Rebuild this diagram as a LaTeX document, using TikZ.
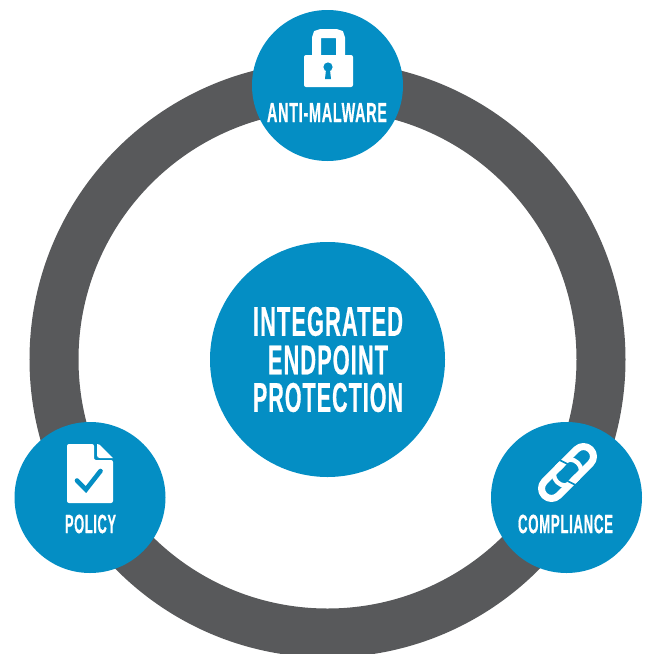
\documentclass[tikz,border=0pt]{standalone}
\usepackage{fontspec}
\setmainfont[FakeStretch=0.5,FakeBold=0.45,LetterSpace=2.5]{Liberation Sans}
\definecolor{ringgray}{HTML}{58595B}
\definecolor{hubblue}{HTML}{048EC4}
\tikzset{
  hub/.style={circle,fill=hubblue,draw=none,inner sep=0pt},
  lbl/.style={text=white,inner sep=0pt,font=\bfseries},
  iconw/.style={fill=white,draw=none},
  linkw/.style={draw=white,line width=7pt,line cap=butt,line join=round,rounded corners=10pt},
  linkn/.style={draw=white,line width=4.4pt,line cap=butt,rounded corners=10pt},
  linkb/.style={draw=hubblue,line width=1.6pt,line cap=butt}
}
\newcommand{\fit}[3]{\resizebox{#1pt}{#2pt}{#3}}
\begin{document}
\begin{tikzpicture}[x=1pt,y=-1pt]
\useasboundingbox (0,0) rectangle (645,654);
\begin{scope}
\clip (0,0) rectangle (645,654);
\draw[ringgray,line width=49pt] (327.5,359.5) circle (273.5pt);
\end{scope}
\node[hub,minimum size=235pt] (core) at (327.5,359.5) {};
\node[hub,minimum size=151pt] (top) at (327.5,85.5) {};
\node[hub,minimum size=151pt] (left) at (90,497.5) {};
\node[hub,minimum size=151pt] (right) at (566.5,497.5) {};
\node[lbl] (l1) at (328,321.5) {\fit{150}{29}{INTEGRATED}};
\node[lbl] (l2) at (328,360) {\fit{120}{29}{ENDPOINT}};
\node[lbl] (l3) at (328,397.5) {\fit{150}{29}{PROTECTION}};
\node[lbl] (t1) at (327,112.5) {\fit{120}{19}{ANTI-MALWARE}};
\node[lbl] (t2) at (90.5,524) {\fit{51}{18.5}{POLICY}};
\node[lbl] (t3) at (565.5,524) {\fit{95}{18.5}{COMPLIANCE}};
% lock
\draw[white,line width=9pt] (316.5,58) -- (316.5,38) .. controls (316.5,35) and (318,33.5) .. (321,33.5) -- (336,33.5) .. controls (339,33.5) and (340.5,35) .. (340.5,38) -- (340.5,58);
\fill[iconw,rounded corners=2pt] (304,55) rectangle (353,87);
\fill[hubblue] (328,67) circle (4.6pt);
\fill[hubblue] (326.2,68) -- (329.8,68) -- (331,79) -- (325,79) -- cycle;
% document
\fill[iconw,rounded corners=2pt] (67,444) -- (94,444) -- (94,460) -- (113,460) -- (113,503) -- (67,503) -- cycle;
\fill[iconw] (97,444) .. controls (99,444) and (100,445) .. (101,446) -- (113,458) -- (100,458) .. controls (98,458) and (97,457) .. (97,455) -- cycle;
\draw[hubblue,line width=4.6pt,line cap=round,line join=miter] (77,480.5) -- (86,489.5) -- (100.5,471);
% chain
\begin{scope}[shift={(567.5,472.5)},rotate=45]
\draw[linkn] (0,-11) -- (-14,-11) -- (-14,10) -- (-3,10);
\draw[linkn] (0,11) -- (14,11) -- (14,-10) -- (3,-10);
\draw[linkw] (-4,-10) -- (32.6,-10) -- (32.6,10) -- (-2,10);
\draw[linkw] (4,10) -- (-32.6,10) -- (-32.6,-10) -- (2,-10);
\draw[linkb] (3,-15) -- (6,-6);
\draw[linkb] (-3,15) -- (-6,6);
\end{scope}
\end{tikzpicture}
\end{document}
